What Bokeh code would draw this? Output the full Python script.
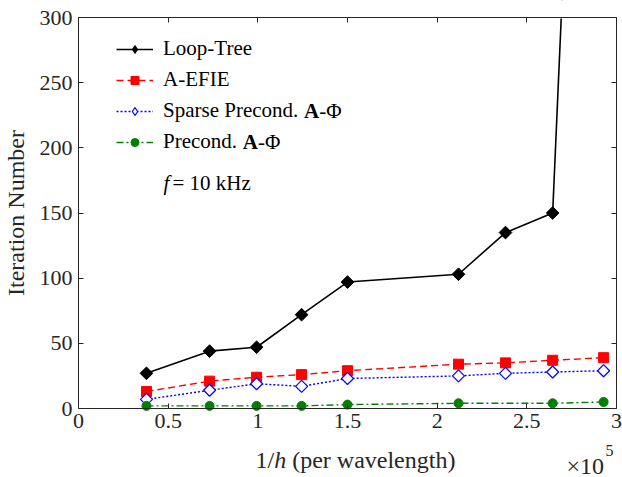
import math
from bokeh.plotting import figure
from bokeh.models import LinearAxis, Label, Legend, LegendItem, Range1d, FixedTicker, BoxAnnotation
from bokeh.embed import file_html
from bokeh.resources import INLINE

# ---- data (x in units of 1e5 per wavelength) ----
x_pts = [0.379, 0.731, 0.993, 1.244, 1.500, 2.119, 2.381, 2.644, 2.928]
loop_tree = [27, 44, 47, 72, 97, 103, 135, 150, 1040]
a_efie = [13, 21, 24, 26, 29, 34, 35, 37, 39]
sparse_aphi = [7, 14, 19, 17, 23, 25, 27, 28, 29]
prec_x = [0.379, 0.731, 0.993, 1.244, 1.500, 2.119, 2.644, 2.928]
prec_aphi = [2, 2, 2, 2, 3, 4, 4, 5]

x_ticks = [0, 0.5, 1, 1.5, 2, 2.5, 3]
x_tick_labels = ["0", "0.5", "1", "1.5", "2", "2.5", "3"]
y_ticks = [0, 50, 100, 150, 200, 250, 300]

FONT = "Liberation Serif"
AX = "#262626"

W, H = 622, 477
# axes box in canvas pixels: x 0..3 -> 78..616, y 0..300 -> 408..17
PX_L, PX_R, PY_T, PY_B = 78, 616, 17, 408
sx = (PX_R - PX_L) / 3.0
sy = (PY_B - PY_T) / 300.0
x_range = Range1d(-PX_L / sx, 3 + (W - PX_R) / sx)
y_range = Range1d(-(H - PY_B) / sy, 300 + PY_T / sy)

p = figure(width=W, height=H, x_range=x_range, y_range=y_range,
           output_backend="svg", toolbar_location=None,
           x_axis_location=None, y_axis_location=None)
p.title.visible = False
p.min_border = 0
p.min_border_left = 0
p.min_border_right = 0
p.min_border_top = 0
p.min_border_bottom = 0
p.xgrid.visible = False
p.ygrid.visible = False
p.outline_line_color = None
p.background_fill_color = "white"
p.border_fill_color = "white"


def style_axis(ax, labels=True):
    ax.axis_line_color = AX
    ax.major_tick_line_color = AX
    ax.major_tick_in = 5
    ax.major_tick_out = 0
    ax.minor_tick_line_color = None
    ax.major_label_text_font = FONT
    ax.major_label_text_color = AX
    ax.major_label_text_font_size = "22px" if labels else "0px"
    if not labels:
        ax.major_label_standoff = 0


xb = LinearAxis(ticker=FixedTicker(ticks=x_ticks), fixed_location=0, bounds=(0, 3))
xb.major_label_overrides = {t: l for t, l in zip(x_ticks, x_tick_labels)}
style_axis(xb)
xb.major_label_standoff = 5
p.add_layout(xb, "below")

yl = LinearAxis(ticker=FixedTicker(ticks=y_ticks), axis_label="Iteration Number",
                fixed_location=0, bounds=(0, 300))
style_axis(yl)
yl.major_label_standoff = 6
yl.axis_label_standoff = 8
yl.axis_label_text_font = FONT
yl.axis_label_text_font_style = "normal"
yl.axis_label_text_font_size = "24px"
yl.axis_label_text_color = AX
p.add_layout(yl, "left")

xt = LinearAxis(ticker=FixedTicker(ticks=x_ticks), fixed_location=300, bounds=(0, 3))
style_axis(xt, labels=False)
p.add_layout(xt, "above")
yr = LinearAxis(ticker=FixedTicker(ticks=y_ticks), fixed_location=3, bounds=(0, 300))
style_axis(yr, labels=False)
p.add_layout(yr, "right")

# ---- series ----
l1 = p.line(x_pts, loop_tree, line_color="black", line_width=1.6)
m1 = p.scatter(x_pts, loop_tree, marker="square", angle=math.pi / 4, size=9,
               fill_color="black", line_color="black")

l2 = p.line(x_pts, a_efie, line_color="red", line_width=1.4, line_dash="7 4")
m2 = p.scatter(x_pts, a_efie, marker="square", size=10, fill_color="red", line_color="red")

l3 = p.line(x_pts, sparse_aphi, line_color="blue", line_width=1.4, line_dash="2 2")
m3 = p.scatter(x_pts, sparse_aphi, marker="square", angle=math.pi / 4, size=8.5,
               fill_color="white", line_color="blue", line_width=1.2)

l4 = p.line(prec_x, prec_aphi, line_color="green", line_width=1.4, line_dash="7 3 2 3")
m4 = p.scatter(prec_x, prec_aphi, marker="circle", size=9, fill_color="green", line_color="green")

# legend sample diamonds: drawn only at the off-scale last Loop-Tree point, which lies outside the view
d1 = p.scatter(x_pts[-1:], loop_tree[-1:], marker="diamond", size=13,
               fill_color="black", line_color="black")
d3 = p.scatter(x_pts[-1:], loop_tree[-1:], marker="diamond", size=13,
               fill_color="white", line_color="blue", line_width=1.2)

# white masks above the top of the axes box (clip the off-scale Loop-Tree segment at 300)
y_top = y_ticks[-1]
p.quad(left=x_range.start - 1, right=x_range.end + 1, bottom=y_top, top=y_range.end + 200,
       fill_color="white", fill_alpha=1.0, line_color="white", line_width=2)
p.add_layout(BoxAnnotation(bottom=y_range.end - 5 / sy, top=y_range.end + 200,
                           fill_color="white", fill_alpha=1.0, line_color=None,
                           level="annotation"))

legend = Legend(items=[
    LegendItem(label="Loop-Tree", renderers=[l1, d1]),
    LegendItem(label="A-EFIE", renderers=[l2, m2]),
    LegendItem(label="Sparse Precond.", renderers=[l3, d3]),
    LegendItem(label="Precond.", renderers=[l4, m4]),
], location=(116, H - 154))
legend.border_line_color = None
legend.background_fill_alpha = 0
legend.padding = 0
legend.margin = 0
legend.spacing = 6
legend.glyph_width = 37
legend.glyph_height = 20
legend.label_height = 20
legend.label_standoff = 10
legend.label_text_font = FONT
legend.label_text_font_size = "21px"
legend.label_text_color = "black"
p.add_layout(legend)

LS = 21  # legend font size in px
TX = 163  # legend text start (canvas px)


def lab(x, y, text, size=LS, style="normal", baseline="middle", color="black"):
    # x, y in canvas pixels from the top-left corner
    p.add_layout(Label(x=x, y=H - y, x_units="screen", y_units="screen", text=text,
                       text_font=FONT, text_font_size=f"{size}px", text_font_style=style,
                       text_baseline=baseline, text_align="left", text_color=color))


# bold A in legend entries
lab(TX + 6.693 * LS, 110, "A", style="bold")
lab(TX + 6.693 * LS + 0.722 * LS, 110, "-Φ")
lab(TX + 3.777 * LS, 141, "A", style="bold")
lab(TX + 3.777 * LS + 0.722 * LS, 141, "-Φ")

# f = 10 kHz
lab(TX, 182, "f", style="italic")
lab(TX + 9, 182, "= 10 kHz")

# x axis label with italic h
XS = 24
x0 = 255
lab(x0, 459, "1/", size=XS, color=AX)
lab(x0 + 0.778 * XS, 459, "h", size=XS, style="italic", color=AX)
lab(x0 + 1.528 * XS, 459, "(per wavelength)", size=XS, color=AX)

# x10^5 multiplier
lab(566, 465, "×10", size=24, baseline="alphabetic", color=AX)
lab(605, 450, "5", size=16, baseline="alphabetic", color=AX)

open("out.html", "w").write(file_html(p, INLINE))
